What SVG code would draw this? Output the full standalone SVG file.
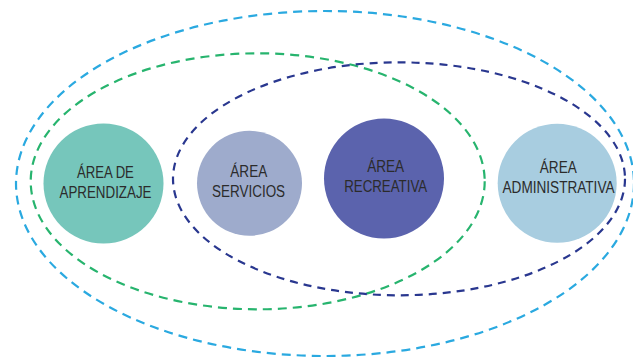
<svg xmlns="http://www.w3.org/2000/svg" width="633" height="361" viewBox="0 0 633 361">
<style>
.ring{fill:none;stroke-width:2.2}
.lbl{font-family:"Liberation Sans",Arial,sans-serif;font-size:16px;fill:#2b2b2b;text-anchor:middle}
</style>
<rect width="633" height="361" fill="#ffffff"/>
<g id="connectors">
<ellipse class="ring" cx="325" cy="183.5" rx="309" ry="172.5" stroke="#2aa9e0" stroke-dasharray="9 6"/>
<ellipse class="ring" cx="257.7" cy="181.3" rx="227" ry="128" stroke="#27b46e" stroke-dasharray="9 6"/>
<ellipse class="ring" cx="399" cy="178.8" rx="226" ry="116.5" stroke="#29378f" stroke-dasharray="8 6"/>
</g>
<g id="aprendizaje">
<circle cx="103.5" cy="183.5" r="60" fill="#76c6bb"/>
<text class="lbl" x="105.4" y="178.3" textLength="57" lengthAdjust="spacingAndGlyphs">ÁREA DE</text>
<text class="lbl" x="105.5" y="198" textLength="92" lengthAdjust="spacingAndGlyphs">APRENDIZAJE</text>
</g>
<g id="servicios">
<circle cx="249.5" cy="183.3" r="52.5" fill="#9eabcc"/>
<text class="lbl" x="248.8" y="176.7" textLength="37" lengthAdjust="spacingAndGlyphs">ÁREA</text>
<text class="lbl" x="248.6" y="197.3" textLength="73" lengthAdjust="spacingAndGlyphs">SERVICIOS</text>
</g>
<g id="recreativa">
<circle cx="384" cy="178.5" r="60" fill="#5b63ad"/>
<text class="lbl" x="385.7" y="172" textLength="37" lengthAdjust="spacingAndGlyphs">ÁREA</text>
<text class="lbl" x="385.7" y="191.7" textLength="83" lengthAdjust="spacingAndGlyphs">RECREATIVA</text>
</g>
<g id="administrativa">
<circle cx="557.2" cy="183.3" r="59.5" fill="#a8cde0"/>
<text class="lbl" x="558.3" y="173.3" textLength="37" lengthAdjust="spacingAndGlyphs">ÁREA</text>
<text class="lbl" x="558.5" y="193.3" textLength="112" lengthAdjust="spacingAndGlyphs">ADMINISTRATIVA</text>
</g>
</svg>
